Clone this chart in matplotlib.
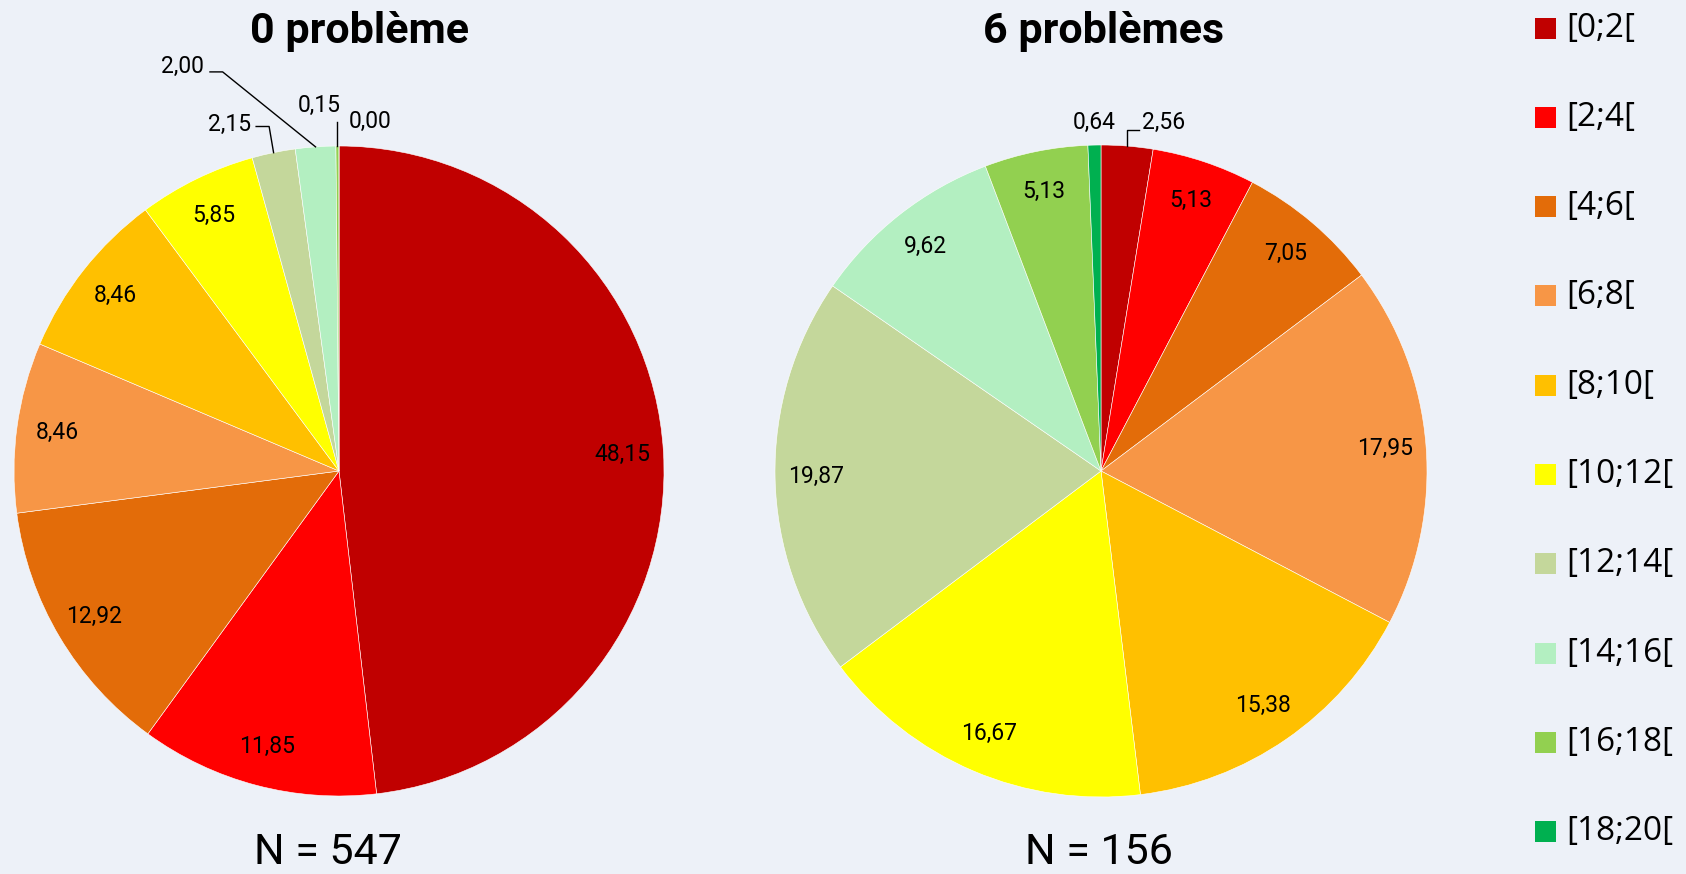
import matplotlib.pyplot as plt
from matplotlib.patches import Rectangle
import numpy as np

# data
classes = ['[0;2[', '[2;4[', '[4;6[', '[6;8[', '[8;10[',
           '[10;12[', '[12;14[', '[14;16[', '[16;18[', '[18;20[']
colors = ['#C00000', '#FF0000', '#E36C09', '#F79646', '#FFC000',
          '#FFFF00', '#C4D79B', '#B3EFC1', '#92D050', '#00B050']
vals_0 = [48.15, 11.85, 12.92, 8.46, 8.46, 5.85, 2.15, 2.00, 0.15, 0.00]
vals_6 = [2.56, 5.13, 7.05, 17.95, 15.38, 16.67, 19.87, 9.62, 5.13, 0.64]
titles = ['0 problème', '6 problèmes']
counts = [547, 156]

bg = '#EDF1F8'
W, H = 1686, 874
fam = ['Roboto', 'DejaVu Sans']
lab_fs = 16.5

fig = plt.figure(figsize=(W / 100, H / 100), dpi=100, facecolor=bg)


def fmt(v):
    return '{:.2f}'.format(v).replace('.', ',')


def draw_pie(cx, cy, r, vals):
    # axes placed in pixel coords, pie radius 1
    ax = fig.add_axes([(cx - r) / W, (H - cy - r) / H, 2 * r / W, 2 * r / H])
    ax.set_facecolor(bg)
    wedges, _ = ax.pie(vals, colors=colors, startangle=90, counterclock=False,
                       radius=1, wedgeprops=dict(edgecolor='white', linewidth=0.4))
    ax.set_xlim(-1, 1)
    ax.set_ylim(-1, 1)
    ax.set_aspect('equal')
    ax.axis('off')
    return ax, wedges


def mid_point(w, rr=1.0):
    a = np.deg2rad((w.theta1 + w.theta2) / 2)
    return rr * np.cos(a), rr * np.sin(a)


kw = dict(fontsize=lab_fs, family=fam, clip_on=False)

# left pie
ax1, w1 = draw_pie(339, 471, 325, vals_0)
for i, v in enumerate(vals_0):
    if v >= 3:
        x, y = mid_point(w1[i], 0.875)
        ax1.text(x, y, fmt(v), ha='center', va='center', **kw)

# small slices with leaders
ex, ey = mid_point(w1[6])
ax1.text(-0.27, 1.065, fmt(vals_0[6]), ha='right', va='center', **kw)
ax1.plot([-0.255, -0.215, ex], [1.06, 1.06, ey], color='black', lw=1, clip_on=False)
ex, ey = mid_point(w1[7])
ax1.text(-0.415, 1.245, fmt(vals_0[7]), ha='right', va='center', **kw)
ax1.plot([-0.397, -0.358, ex], [1.228, 1.228, ey], color='black', lw=1, clip_on=False)
ex, ey = mid_point(w1[8])
ax1.text(-0.06, 1.125, fmt(vals_0[8]), ha='center', va='center', **kw)
ax1.plot([ex, ex], [1.075, ey], color='black', lw=1, clip_on=False)
ax1.text(0.03, 1.075, fmt(vals_0[9]), ha='left', va='center', **kw)

# right pie
ax2, w2 = draw_pie(1101, 471, 326, vals_6)
for i, v in enumerate(vals_6):
    if v >= 3:
        x, y = mid_point(w2[i], 0.875)
        ax2.text(x, y, fmt(v), ha='center', va='center', **kw)
ax2.text(-0.02, 1.07, fmt(vals_6[9]), ha='center', va='center', **kw)
ex, ey = mid_point(w2[0])
ax2.text(0.125, 1.07, fmt(vals_6[0]), ha='left', va='center', **kw)
ax2.plot([0.118, ex, ex], [1.045, 1.045, ey], color='black', lw=1, clip_on=False)

# titles and N
for x, nx, t, n in zip([360, 1104], [328, 1099], titles, counts):
    fig.text(x / W, 1 - 32 / H, t, ha='center', va='center', fontsize=31,
             fontweight='bold', family=fam)
    fig.text(nx / W, 1 - 853 / H, 'N = {}'.format(n), ha='center',
             va='center', fontsize=31, family=fam)

# legend
lg = fig.add_axes([1520 / W, 0, 166 / W, 1])
lg.set_xlim(1520, 1686)
lg.set_ylim(874, 0)
lg.axis('off')
for i, (c, lab) in enumerate(zip(colors, classes)):
    yc = 28 + i * 89.3
    lg.add_patch(Rectangle((1535, yc - 10.5), 21, 21, facecolor=c, edgecolor='none'))
    lg.text(1566, yc, lab, ha='left', va='center', fontsize=24,
            family=['Open Sans', 'DejaVu Sans'], clip_on=False)

plt.savefig('out.png', dpi=100, facecolor=bg)
